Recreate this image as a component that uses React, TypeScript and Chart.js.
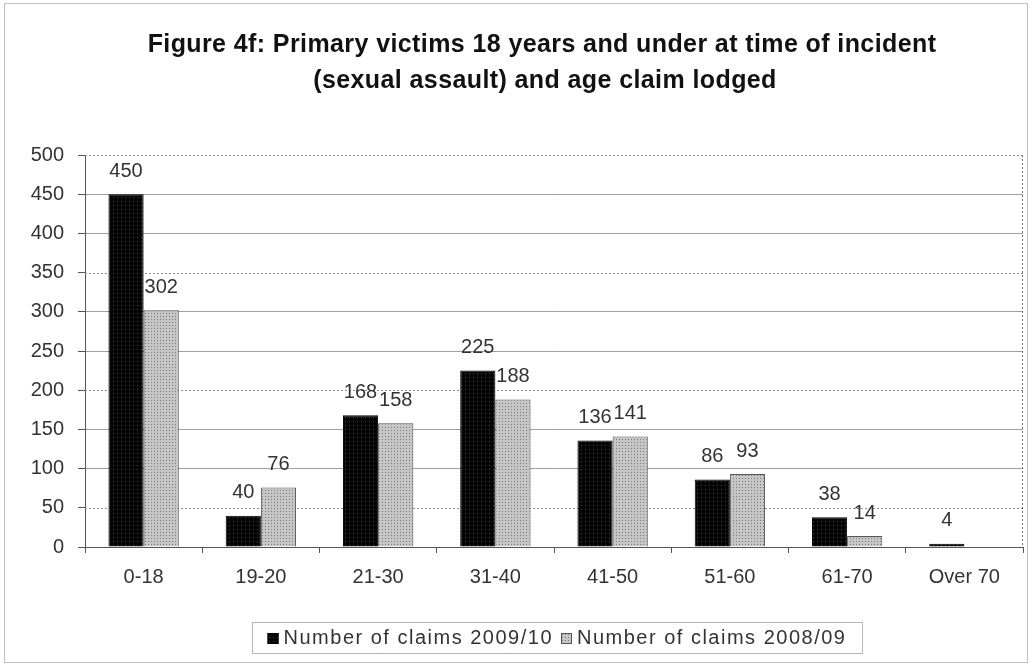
import React, { useEffect, useRef } from "react";
import { Chart, registerables } from "chart.js";

Chart.register(...registerables);

const categories = ["0-18", "19-20", "21-30", "31-40", "41-50", "51-60", "61-70", "Over 70"];
const claims200910 = [450, 40, 168, 225, 136, 86, 38, 4];
const claims200809 = [302, 76, 158, 188, 141, 93, 14, null];
const seriesLabels = ["Number of claims 2009/10", "Number of claims 2008/09"];
const titleLines = [
  "Figure 4f: Primary victims 18 years and under at time of incident",
  "(sexual assault) and age claim lodged",
];
const yMin = 0;
const yMax = 500;
const yStep = 50;
const dashedGridValues = [50, 200, 350, 500];

const FONT = '"Liberation Sans", Arial, sans-serif';

export default function App() {
  const ref = useRef<HTMLCanvasElement>(null);

  useEffect(() => {
    const canvas = ref.current!;
    const mainCtx = canvas.getContext("2d")!;
    const mkPattern = (size: number, bg: string, dot: string) => {
      const c = document.createElement("canvas");
      c.width = size;
      c.height = size;
      const g = c.getContext("2d")!;
      g.fillStyle = bg;
      g.fillRect(0, 0, size, size);
      g.fillStyle = dot;
      g.fillRect(1, 1, 1, 1);
      return mainCtx.createPattern(c, "repeat")!;
    };
    const blackFill = mkPattern(4, "#050505", "#3a4646");
    const greyFill = mkPattern(3, "#c6c6c6", "#7c7c7c");
    const fills = [blackFill, greyFill];
    const borders = ["#000000", "#555555"];

    const framePlugin = {
      id: "frame",
      beforeDraw(chart: any) {
        const ctx = chart.ctx;
        ctx.save();
        ctx.fillStyle = "#ffffff";
        ctx.fillRect(0, 0, chart.width, chart.height);
        ctx.strokeStyle = "#808080";
        ctx.lineWidth = 1;
        ctx.setLineDash([1, 1]);
        ctx.strokeRect(4.5, 3.5, 1023, 659);
        ctx.setLineDash([]);
        // title
        ctx.fillStyle = "#111111";
        ctx.font = `bold 25px ${FONT}`;
        (ctx as any).letterSpacing = "0.4px";
        ctx.textAlign = "center";
        ctx.textBaseline = "middle";
        ctx.fillText(titleLines[0], 542, 45);
        ctx.fillText(titleLines[1], 545, 81);
        ctx.restore();
      },
      beforeDatasetsDraw(chart: any) {
        const ctx = chart.ctx;
        const { left, right, top, bottom } = chart.chartArea;
        const y = chart.scales.y;
        ctx.save();
        ctx.strokeStyle = "#8a8a8a";
        ctx.lineWidth = 1;
        ctx.setLineDash([2, 2]);
        for (const v of dashedGridValues) {
          const py = Math.round(y.getPixelForValue(v)) + 0.5;
          ctx.beginPath();
          ctx.moveTo(left, py);
          ctx.lineTo(right, py);
          ctx.stroke();
        }
        ctx.strokeStyle = "#707070";
        ctx.beginPath();
        ctx.moveTo(Math.round(right) - 0.5, top);
        ctx.lineTo(Math.round(right) - 0.5, bottom);
        ctx.stroke();
        ctx.restore();
      },
      afterDatasetsDraw(chart: any) {
        const ctx = chart.ctx;
        ctx.save();
        ctx.font = `20px ${FONT}`;
        ctx.fillStyle = "#333333";
        ctx.textAlign = "center";
        ctx.textBaseline = "middle";
        chart.data.datasets.forEach((ds: any, di: number) => {
          const meta = chart.getDatasetMeta(di);
          meta.data.forEach((el: any, i: number) => {
            const v = ds.data[i];
            if (v === null || v === undefined) return;
            ctx.fillText(String(v), el.x, el.y - 23);
          });
        });
        ctx.restore();
      },
      afterDraw(chart: any) {
        const ctx = chart.ctx;
        ctx.save();
        const bx = 252, by = 622, bw = 610, bh = 31;
        ctx.strokeStyle = "#707070";
        ctx.lineWidth = 1;
        ctx.setLineDash([1, 1]);
        ctx.strokeRect(bx + 0.5, by + 0.5, bw, bh);
        ctx.setLineDash([]);
        ctx.font = `20px ${FONT}`;
        (ctx as any).letterSpacing = "1.5px";
        ctx.textBaseline = "middle";
        ctx.textAlign = "left";
        const cy = by + bh / 2 + 1;
        const sq = 11;
        const widths = chart.data.datasets.map((ds: any) => ctx.measureText(ds.label).width);
        const total = widths.reduce((a: number, w: number) => a + w + sq + 5, 0) + 8;
        let x = bx + (bw - total) / 2;
        chart.data.datasets.forEach((ds: any, di: number) => {
          ctx.fillStyle = fills[di];
          ctx.fillRect(x, cy - sq / 2, sq, sq);
          ctx.strokeStyle = borders[di];
          ctx.strokeRect(x + 0.5, cy - sq / 2 + 0.5, sq - 1, sq - 1);
          ctx.fillStyle = "#333333";
          ctx.fillText(ds.label, x + sq + 5, cy);
          x += sq + 5 + widths[di] + 8;
        });
        ctx.restore();
      },
    };

    const chart = new Chart(canvas, {
      type: "bar",
      data: {
        labels: categories,
        datasets: [
          {
            label: seriesLabels[0],
            data: claims200910,
            backgroundColor: blackFill,
            borderColor: borders[0],
            borderWidth: 1,
            categoryPercentage: 0.6,
            barPercentage: 1,
          },
          {
            label: seriesLabels[1],
            data: claims200809,
            backgroundColor: greyFill,
            borderColor: borders[1],
            borderWidth: 1,
            categoryPercentage: 0.6,
            barPercentage: 1,
          },
        ],
      },
      options: {
        responsive: false,
        animation: false,
        devicePixelRatio: 1,
        layout: { padding: { top: 155, right: 9, bottom: 59, left: 0 } },
        plugins: {
          legend: { display: false },
          title: { display: false },
          tooltip: { enabled: false },
        },
        scales: {
          x: {
            grid: {
              offset: true,
              drawOnChartArea: false,
              tickLength: 6,
              tickColor: "#555555",
            },
            border: { color: "#555555", width: 1 },
            ticks: {
              font: { family: FONT, size: 20 },
              color: "#333333",
              padding: 12,
              maxRotation: 0,
              autoSkip: false,
            },
            afterFit(scale: any) {
              scale.height = 60;
            },
          },
          y: {
            min: yMin,
            max: yMax,
            ticks: {
              stepSize: yStep,
              font: { family: FONT, size: 20 },
              color: "#333333",
              padding: 14,
            },
            grid: {
              color: (c: any) =>
                c.tick && dashedGridValues.includes(c.tick.value) ? "rgba(0,0,0,0)" : "#a0a0a0",
              tickColor: "#555555",
              tickLength: 7,
            },
            border: { color: "#555555", width: 1 },
            afterFit(scale: any) {
              scale.width = 85;
            },
          },
        },
      },
      plugins: [framePlugin],
    });
    return () => chart.destroy();
  }, []);

  return (
    <div style={{ position: "absolute", left: 0, top: 0, width: 1032, height: 666, background: "#fff" }}>
      <canvas ref={ref} width={1032} height={666} style={{ display: "block" }} />
    </div>
  );
}
